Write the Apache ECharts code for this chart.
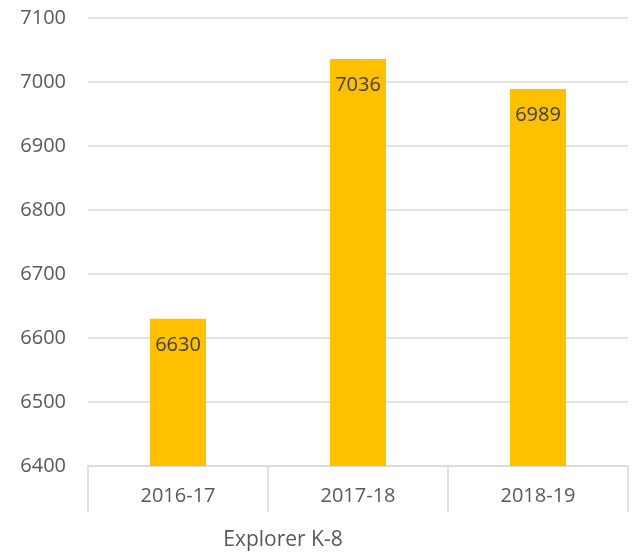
<!DOCTYPE html>
<html>
<head>
<meta charset="utf-8">
<script src="https://cdn.jsdelivr.net/npm/echarts@6/dist/echarts.min.js"></script>
<style>
    html, body { margin: 0; padding: 0; background: #fff; }
    #chart { width: 638px; height: 554px; }
</style>
</head>
<body>
<div id="chart"></div>
<script>
const years = ['2016-17', '2017-18', '2018-19'];
const students = [6630, 7036, 6989];
const axisName = 'Explorer K-8';

const chart = echarts.init(document.getElementById('chart'));
const font = '"Open Sans", "Liberation Sans", sans-serif';

chart.setOption({
    animation: false,
    grid: { left: 88, right: 10, top: 18, bottom: 88, containLabel: false },
    graphic: [{
        type: 'text',
        x: 283,
        y: 540,
        style: {
            text: axisName,
            font: '21px ' + font,
            fill: '#595959',
            textAlign: 'center',
            textVerticalAlign: 'middle',
        },
    }],
    xAxis: {
        type: 'category',
        data: years,
        axisLine: { lineStyle: { color: '#d9d9d9', width: 1.5 } },
        axisTick: { show: true, alignWithLabel: false, length: 46, lineStyle: { color: '#d9d9d9', width: 1.5 } },
        axisLabel: { color: '#595959', fontSize: 20, fontFamily: font, margin: 20 },
    },
    yAxis: {
        type: 'value',
        min: 6400,
        max: 7100,
        interval: 100,
        axisLine: { show: false },
        axisTick: { show: false },
        splitLine: { lineStyle: { color: '#d9d9d9', width: 1.5 } },
        axisLabel: { color: '#595959', fontSize: 20, fontFamily: font, margin: 22, formatter: v => String(v) },
    },
    series: [{
        type: 'bar',
        data: students,
        barWidth: 56,
        itemStyle: { color: '#ffc000' },
        label: {
            show: true,
            position: 'insideTop',
            distance: 16,
            color: '#404040',
            fontSize: 20,
            fontFamily: font,
        },
    }],
});
</script>
</body>
</html>
